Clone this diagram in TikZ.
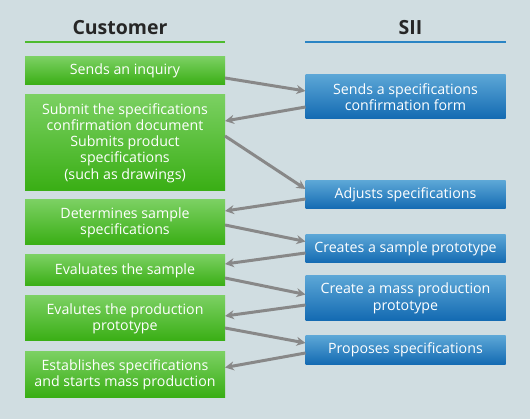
\documentclass[tikz,border=0pt]{standalone}
\usepackage{fontspec}
\setmainfont{Open Sans}
\usetikzlibrary{arrows.meta}
\definecolor{bg}{HTML}{D0DDE1}
\definecolor{gtop}{HTML}{7BD062}
\definecolor{gbot}{HTML}{39AE14}
\definecolor{btop}{HTML}{5BA6D6}
\definecolor{bbot}{HTML}{136AB2}
\definecolor{gline}{HTML}{4DBB2E}
\definecolor{bline}{HTML}{2A84C4}
\definecolor{arr}{HTML}{888888}
\begin{document}
\begin{tikzpicture}[x=1pt,y=-1pt,
  box/.style={inner sep=0pt,outer sep=0pt,text=white,align=center,
    font=\fontsize{14.2}{16.2}\selectfont,anchor=north west},
  gbox/.style={box,top color=gtop,bottom color=gbot,minimum width=200pt},
  bbox/.style={box,top color=btop,bottom color=bbot,minimum width=200pt},
  title/.style={font=\fontsize{19.5}{22}\selectfont\bfseries,text=black!85},
  conn/.style={draw=arr,line width=3pt,-{Stealth[length=9pt,width=9pt]},shorten >=0pt}]
\fill[bg] (0,0) rectangle (530,419);
\useasboundingbox (0,0) rectangle (530,419);
\node[title] (tc) at (120,28) {Customer};
\node[title] (ts) at (410.5,28) {SII};
\draw[gline,line width=2pt] (25,42) -- (225,42);
\draw[bline,line width=2pt] (305,42) -- (505.5,42);
% green boxes
\node[gbox,minimum height=28pt] (g1) at (25,57) {Sends an inquiry};
\node[gbox,minimum height=96pt] (g2) at (25,95) {Submit the specifications\\confirmation document\\Submits product\\specifications\\(such as drawings)};
\node[gbox,minimum height=45pt] (g3) at (25,200) {Determines sample\\specifications};
\node[gbox,minimum height=31pt] (g4) at (25,255) {Evaluates the sample};
\node[gbox,minimum height=45pt] (g5) at (25,296) {Evalutes the production\\prototype};
\node[gbox,minimum height=45pt] (g6) at (25,352) {Establishes specifications\\and starts mass production};
% blue boxes
\node[bbox,minimum height=44pt] (b1) at (305.5,75) {Sends a specifications\\confirmation form};
\node[bbox,minimum height=28pt] (b2) at (305.5,181) {Adjusts specifications};
\node[bbox,minimum height=28.5pt] (b3) at (305.5,234.5) {Creates a sample prototype};
\node[bbox,minimum height=44.5pt] (b4) at (305.5,276) {Create a mass production\\prototype};
\node[bbox,minimum height=28.5pt] (b5) at (305.5,336) {Proposes specifications};
% connectors
\draw[conn] (g1.north east |- 0,78) -- (b1.north west |- 0,91);
\draw[conn] (b1.north west |- 0,107) -- (g2.north east |- 0,121);
\draw[conn] (g2.north east |- 0,136) -- (b2.north west |- 0,189);
\draw[conn] (b2.north west |- 0,199) -- (g3.north east |- 0,211);
\draw[conn] (g3.north east |- 0,225) -- (b3.north west |- 0,241.5);
\draw[conn] (b3.north west |- 0,253) -- (g4.north east |- 0,264);
\draw[conn] (g4.north east |- 0,278) -- (b4.north west |- 0,294.5);
\draw[conn] (b4.north west |- 0,305) -- (g5.north east |- 0,316);
\draw[conn] (g5.north east |- 0,328) -- (b5.north west |- 0,343);
\draw[conn] (b5.north west |- 0,353) -- (g6.north east |- 0,367.5);
\end{tikzpicture}
\end{document}
